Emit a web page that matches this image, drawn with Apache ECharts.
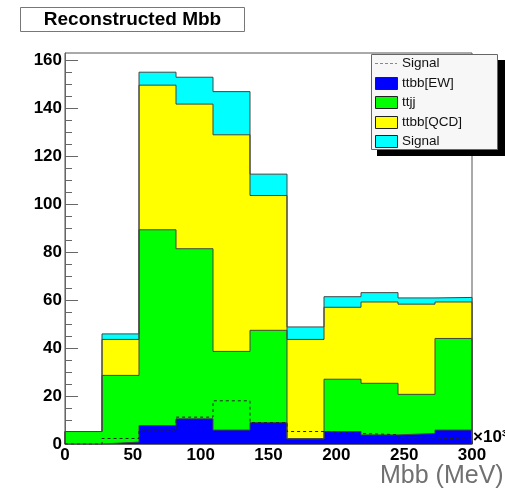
<!DOCTYPE html>
<html>
<head>
<meta charset="utf-8">
<script src="https://cdn.jsdelivr.net/npm/echarts@6/dist/echarts.min.js"></script>
<style>
html,body{margin:0;padding:0;background:#fff;}
#chart{width:505px;height:489px;}
</style>
</head>
<body>
<div id="chart"></div>
<script>
// ---- data ----
const xMin = 0, xMax = 300, nBins = 11;
const ttbbEW  = [0, 0.8, 7.7, 10.5, 5.8, 8.9, 2.2, 5.2, 3.8, 4.4, 5.8];
const ttjj    = [5.2, 27.8, 81.6, 70.9, 32.8, 38.5, 0, 21.8, 21.5, 16.3, 38.2];
const ttbbQCD = [0, 15, 60.3, 60.3, 90.3, 56.2, 41.4, 30, 33.9, 37.6, 15.2];
const signal  = [0, 2.3, 5.4, 11.2, 18, 8.9, 5.2, 4.4, 3.9, 2.6, 1.9];
const yMajorTicks = [0, 20, 40, 60, 80, 100, 120, 140, 160];
const yMinorTicks = [5, 10, 15, 25, 30, 35, 45, 50, 55, 65, 70, 75, 85, 90, 95, 105, 110, 115, 125, 130, 135, 145, 150, 155];
const xTickStep = 50;
const legendNames = ['Signal', 'ttbb[EW]', 'ttjj', 'ttbb[QCD]', 'Signal'];
const xAxisTitle = 'Mbb (MeV)';

// ---- build step histograms ----
const binW = (xMax - xMin) / nBins;
function cumulative(layers) {
  return ttbbEW.map((_, i) => layers.reduce((s, a) => s + a[i], 0));
}
function stepData(vals) {
  const d = [[xMin, 0]];
  vals.forEach((v, i) => d.push([xMin + i * binW, v]));
  d.push([xMax, vals[vals.length - 1]]);
  d.push([xMax, 0]);
  return d;
}
const cBlue = cumulative([ttbbEW]);
const cGreen = cumulative([ttbbEW, ttjj]);
const cYellow = cumulative([ttbbEW, ttjj, ttbbQCD]);
const cCyan = cumulative([ttbbEW, ttjj, ttbbQCD, signal]);

const outline = '#444';
function histSeries(name, vals, color) {
  return {
    type: 'line', name: name, step: 'end', data: stepData(vals),
    showSymbol: false, symbol: 'none', silent: true,
    lineStyle: { color: outline, width: 1 },
    areaStyle: { color: color, opacity: 1, origin: 'start' }
  };
}

const chart = echarts.init(document.getElementById('chart'), null, { renderer: 'canvas' });
const font = 'Liberation Sans, Arial, Helvetica, sans-serif';

const legendRowsY = [63, 83, 102, 122, 141];
const legendColors = [null, '#0000ff', '#00ff00', '#ffff00', '#00ffff'];
const legendGraphics = [
  { type: 'rect', shape: { x: 377, y: 60, width: 128, height: 96 }, style: { fill: '#000' }, z: 100 },
  { type: 'rect', shape: { x: 371.5, y: 54.5, width: 126, height: 95 }, style: { fill: '#f7f7f7', stroke: '#666', lineWidth: 1 }, z: 101 }
];
legendNames.forEach((n, i) => {
  const y = legendRowsY[i];
  if (legendColors[i] === null) {
    legendGraphics.push({ type: 'line', shape: { x1: 375, y1: y + 0.5, x2: 397, y2: y + 0.5 },
      style: { stroke: '#888', lineWidth: 1, lineDash: [3, 2] }, z: 102 });
  } else {
    legendGraphics.push({ type: 'rect', shape: { x: 375.5, y: y - 5.5, width: 22, height: 12 },
      style: { fill: legendColors[i], stroke: '#222', lineWidth: 1 }, z: 102 });
  }
  legendGraphics.push({ type: 'text', x: 402, y: y + 0.5,
    style: { text: n, font: '13.5px ' + font, fill: '#111', verticalAlign: 'middle' }, z: 102 });
});

chart.setOption({
  animation: false,
  backgroundColor: '#fff',
  grid: { left: 65, right: 33, top: 53, bottom: 45, outerBoundsMode: 'none', containLabel: false,
          show: true, borderColor: '#555', borderWidth: 1, backgroundColor: 'transparent' },
  xAxis: {
    type: 'value', min: xMin, max: xMax, interval: xTickStep,
    axisLine: { show: true, lineStyle: { color: '#666', width: 1 } },
    axisTick: { show: false },
    splitLine: { show: false },
    axisLabel: { margin: 3, color: '#000', fontWeight: 'bold', fontSize: 17, fontFamily: font }
  },
  yAxis: [{
    type: 'value', min: 0, max: 163, position: 'left',
    axisLine: { show: true, lineStyle: { color: '#666', width: 1 } },
    axisTick: { show: true, inside: true, length: 13, customValues: yMajorTicks, lineStyle: { color: '#666' } },
    splitLine: { show: false },
    axisLabel: { margin: 3, customValues: yMajorTicks, color: '#000', fontWeight: 'bold', fontSize: 17, fontFamily: font }
  }, {
    type: 'value', min: 0, max: 163, position: 'left', offset: 0,
    axisLine: { show: false },
    axisTick: { show: true, inside: true, length: 7, customValues: yMinorTicks, lineStyle: { color: '#666' } },
    splitLine: { show: false },
    axisLabel: { show: false }
  }],
  series: [
    histSeries('Signal', cCyan, '#00ffff'),
    histSeries('ttbb[QCD]', cYellow, '#ffff00'),
    histSeries('ttjj', cGreen, '#00ff00'),
    histSeries('ttbb[EW]', cBlue, '#0000ff'),
    {
      type: 'line', name: 'Signal (line)', step: 'end', data: stepData(signal),
      showSymbol: false, symbol: 'none', silent: true,
      lineStyle: { color: '#222', width: 1, type: [3, 3] }
    }
  ],
  graphic: [
    { type: 'rect', shape: { x: 20.5, y: 7.5, width: 224, height: 24 }, style: { fill: '#fff', stroke: '#777', lineWidth: 1 }, z: 100 },
    { type: 'text', x: 132.5, y: 20, style: { text: 'Reconstructed Mbb', font: 'bold 19px ' + font, fill: '#000', align: 'center', verticalAlign: 'middle' }, z: 101 },
    { type: 'text', x: 473, y: 437, style: { text: '×10³', font: 'bold 17px ' + font, fill: '#000', align: 'left', verticalAlign: 'middle' }, z: 101 },
    { type: 'text', x: 380, y: 476, style: { text: xAxisTitle, font: '25px ' + font, fill: '#707070', align: 'left', verticalAlign: 'middle' }, z: 101 }
  ].concat(legendGraphics)
});
</script>
</body>
</html>
